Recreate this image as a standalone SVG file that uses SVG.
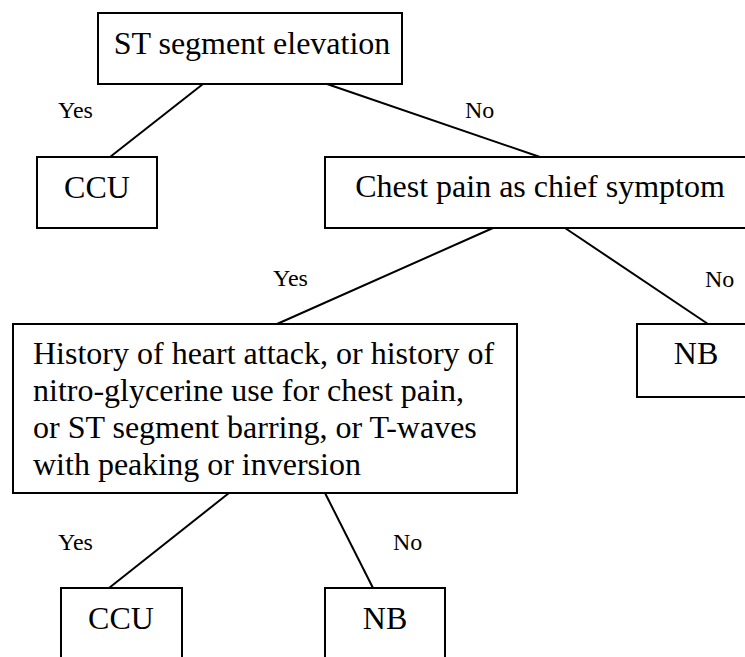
<svg xmlns="http://www.w3.org/2000/svg" width="745" height="657" viewBox="0 0 745 657">
<style>
.box{fill:#fff;stroke:#000;stroke-width:2}
text{font-family:'Liberation Serif','DejaVu Serif',serif;font-size:32px;fill:#000}
.c{text-anchor:middle}
.lbl{font-size:24px}
.ln{stroke:#000;stroke-width:2;fill:none}
</style>
<rect width="745" height="657" fill="#fff"/>
<g id="connectors">
<line class="ln" x1="203" y1="84" x2="110" y2="157"/>
<line class="ln" x1="327" y1="84" x2="540" y2="157"/>
<line class="ln" x1="493" y1="228" x2="277" y2="324"/>
<line class="ln" x1="565" y1="228" x2="708" y2="324"/>
<line class="ln" x1="229" y1="493" x2="109" y2="588"/>
<line class="ln" x1="325" y1="493" x2="373" y2="588"/>
<text class="lbl" x="58" y="118">Yes</text>
<text class="lbl" x="465" y="118">No</text>
<text class="lbl" x="273" y="286">Yes</text>
<text class="lbl" x="705" y="287">No</text>
<text class="lbl" x="58" y="550">Yes</text>
<text class="lbl" x="393" y="550">No</text>
</g>
<g id="n1"><rect class="box" x="98" y="13" width="304" height="71"/><text class="c" x="252" y="54">ST segment elevation</text></g>
<g id="n2"><rect class="box" x="37" y="157" width="120" height="71"/><text class="c" x="97" y="198">CCU</text></g>
<g id="n3"><rect class="box" x="325" y="157" width="440" height="71"/><text class="c" x="540" y="197">Chest pain as chief symptom</text></g>
<g id="n4"><rect class="box" x="637" y="324" width="130" height="73"/><text class="c" x="696" y="364">NB</text></g>
<g id="n5"><rect class="box" x="13" y="324" width="504" height="169"/>
<text x="33" y="364">History of heart attack, or history of</text>
<text x="33" y="401">nitro-glycerine use for chest pain,</text>
<text x="33" y="438">or ST segment barring, or T-waves</text>
<text x="33" y="475">with peaking or inversion</text></g>
<g id="n6"><rect class="box" x="61" y="588" width="121" height="80"/><text class="c" x="121" y="629">CCU</text></g>
<g id="n7"><rect class="box" x="325" y="588" width="120" height="80"/><text class="c" x="385" y="629">NB</text></g>
</svg>
